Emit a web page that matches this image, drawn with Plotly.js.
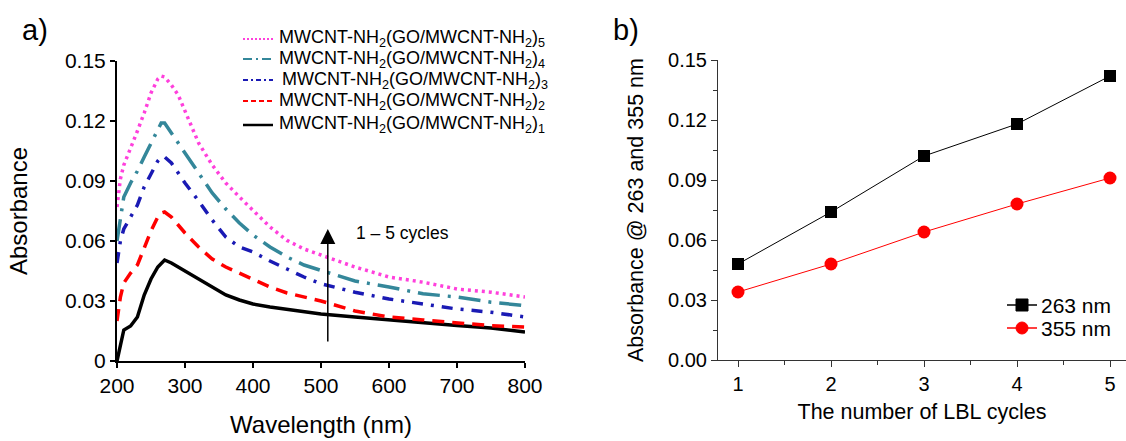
<!DOCTYPE html>
<html>
<head>
<meta charset="utf-8">
<script src="https://cdn.plot.ly/plotly-3.0.1.min.js"></script>
<style>
html,body{margin:0;padding:0;background:#fff;}
#chart{width:1126px;height:441px;}
</style>
</head>
<body>
<div id="chart"></div>
<script>
// ---------- Panel a) UV-vis spectra ----------
const wavelength = [200,205,210,220,230,240,250,260,265,270,280,290,300,320,340,360,380,400,425,450,475,500,550,600,650,700,750,800];
const absCycle1 = [0.000,0.008,0.0155,0.0175,0.022,0.033,0.041,0.047,0.049,0.0505,0.049,0.047,0.0455,0.041,0.037,0.033,0.0305,0.0285,0.027,0.0258,0.0245,0.0235,0.022,0.0205,0.019,0.0178,0.0165,0.0145];
const absCycle2 = [0.020,0.032,0.039,0.044,0.048,0.057,0.065,0.072,0.074,0.0745,0.072,0.068,0.064,0.057,0.051,0.047,0.044,0.041,0.037,0.034,0.032,0.030,0.025,0.022,0.0205,0.019,0.0177,0.017];
const absCycle3 = [0.049,0.060,0.066,0.072,0.078,0.087,0.094,0.100,0.102,0.102,0.099,0.094,0.089,0.080,0.0705,0.062,0.057,0.0545,0.050,0.046,0.042,0.0386,0.0344,0.031,0.0286,0.026,0.0244,0.022];
const absCycle4 = [0.060,0.070,0.082,0.089,0.095,0.102,0.109,0.116,0.119,0.119,0.114,0.109,0.1045,0.094,0.084,0.076,0.069,0.063,0.057,0.052,0.048,0.0453,0.040,0.037,0.0336,0.032,0.0294,0.0277];
const absCycle5 = [0.077,0.091,0.098,0.106,0.115,0.124,0.134,0.141,0.1425,0.142,0.138,0.133,0.125,0.109,0.098,0.089,0.082,0.0754,0.067,0.0603,0.056,0.053,0.047,0.042,0.0394,0.036,0.0344,0.032];
const spectraNames = [
  'MWCNT-NH<sub>2</sub>(GO/MWCNT-NH<sub>2</sub>)<sub>1</sub>',
  'MWCNT-NH<sub>2</sub>(GO/MWCNT-NH<sub>2</sub>)<sub>2</sub>',
  'MWCNT-NH<sub>2</sub>(GO/MWCNT-NH<sub>2</sub>)<sub>3</sub>',
  'MWCNT-NH<sub>2</sub>(GO/MWCNT-NH<sub>2</sub>)<sub>4</sub>',
  'MWCNT-NH<sub>2</sub>(GO/MWCNT-NH<sub>2</sub>)<sub>5</sub>'
];
const yTicksA = [0,0.03,0.06,0.09,0.12,0.15];
const yTickTextA = ['0','0.03','0.06','0.09','0.12','0.15'];
const xTicksA = [200,300,400,500,600,700,800];

// ---------- Panel b) absorbance vs LBL cycles ----------
const cycles = [1,2,3,4,5];
const abs263 = [0.048,0.074,0.102,0.118,0.142];
const abs355 = [0.034,0.048,0.064,0.078,0.091];
const seriesNamesB = ['263 nm','355 nm'];
const yTicksB = [0,0.03,0.06,0.09,0.12,0.15];
const yTickTextB = ['0.00','0.03','0.06','0.09','0.12','0.15'];

const FONT = 'Arial, "Liberation Sans", sans-serif';

const styles = [
  {color:'#000000', dash:'solid', legDash:'solid'},
  {color:'#ff0000', dash:'12px,8px', legDash:'5px,3px'},
  {color:'#1a1ab4', dash:'11px,8px,3px,8px', legDash:'5px,3px,2px,3px'},
  {color:'#34879a', dash:'22px,8px,3px,8px', legDash:'9px,4px,2px,4px'},
  {color:'#ff40dc', dash:'3px,4px', legDash:'2px,2px'}
];
const spectra = [absCycle1,absCycle2,absCycle3,absCycle4,absCycle5];

const traces = [];
for (let i = 0; i < 5; i++) {
  traces.push({
    type:'scatter', mode:'lines', x:wavelength, y:spectra[i],
    name:spectraNames[i], xaxis:'x', yaxis:'y', showlegend:false,
    line:{color:styles[i].color, width:3.5, dash:styles[i].dash}
  });
}
traces.push({
  type:'scatter', mode:'lines+markers', x:cycles, y:abs263, name:seriesNamesB[0],
  xaxis:'x2', yaxis:'y2', showlegend:false,
  line:{color:'#000000', width:1}, marker:{symbol:'square', size:12, color:'#000000'}
});
traces.push({
  type:'scatter', mode:'lines+markers', x:cycles, y:abs355, name:seriesNamesB[1],
  xaxis:'x2', yaxis:'y2', showlegend:false,
  line:{color:'#ff0000', width:1}, marker:{symbol:'circle', size:13, color:'#ff0000'}
});

const W = 1126, H = 441;
const px = v => v / W;
const py = v => 1 - v / H;

// manual legend (panel a): rows from top = cycle 5 .. cycle 1
const legRowsA = [125, 101, 80, 59, 39]; // y pixel of rows for cycles 1..5
const shapes = [];
const annotations = [];
for (let i = 0; i < 5; i++) {
  shapes.push({type:'line', xref:'paper', yref:'paper',
    x0:px(243), x1:px(273), y0:py(legRowsA[i]), y1:py(legRowsA[i]),
    line:{color:styles[i].color, width:i===0?2.5:2, dash:styles[i].legDash}});
  annotations.push({xref:'paper', yref:'paper', x:px(i===2?280:277), y:py(legRowsA[i]),
    xanchor:'left', yanchor:'middle', text:spectraNames[i], showarrow:false, font:{size:18}});
}
// manual legend (panel b)
const legRowsB = [305, 328];
const legColB = ['#000000','#ff0000'];
for (let i = 0; i < 2; i++) {
  shapes.push({type:'line', xref:'paper', yref:'paper',
    x0:px(1007), x1:px(1037), y0:py(legRowsB[i]), y1:py(legRowsB[i]),
    line:{color:legColB[i], width:1.5}});
  shapes.push({type:i===0?'rect':'circle', xref:'paper', yref:'paper',
    x0:px(1016), x1:px(1028), y0:py(legRowsB[i]+6), y1:py(legRowsB[i]-6),
    fillcolor:legColB[i], line:{color:legColB[i], width:1}});
  annotations.push({xref:'paper', yref:'paper', x:px(1039), y:py(legRowsB[i]),
    xanchor:'left', yanchor:'middle', text:seriesNamesB[i], showarrow:false, font:{size:21}});
}
annotations.push(
  {xref:'paper', yref:'paper', x:px(20), y:py(30), xanchor:'left', yanchor:'middle',
   text:'a)', showarrow:false, font:{size:29}},
  {xref:'paper', yref:'paper', x:px(611), y:py(30), xanchor:'left', yanchor:'middle',
   text:'b)', showarrow:false, font:{size:29}},
  {xref:'x', yref:'y', x:510, y:0.066, axref:'x', ayref:'y', ax:510, ay:0.009,
   showarrow:true, arrowhead:2, arrowsize:2, arrowwidth:1.5, arrowcolor:'#000', text:''},
  {xref:'x', yref:'y', x:548, y:0.064, xanchor:'left', yanchor:'middle',
   text:'1 – 5 cycles', showarrow:false, font:{size:17.5}}
);

const layout = {
  width:W, height:H,
  margin:{l:0,r:0,t:0,b:0},
  paper_bgcolor:'#ffffff', plot_bgcolor:'rgba(0,0,0,0)',
  font:{family:FONT, color:'#000000', size:18},
  showlegend:false,
  xaxis:{
    domain:[px(117), px(525)], range:[200,800], anchor:'y',
    tickvals:xTicksA, ticks:'outside', ticklen:5, tickwidth:2, tickcolor:'#000',
    showline:true, linewidth:2, linecolor:'#000', showgrid:false, zeroline:false,
    tickfont:{size:21}, automargin:false,
    title:{text:'Wavelength (nm)', font:{size:24}, standoff:20}
  },
  yaxis:{
    domain:[py(361), py(61)], range:[0,0.15], anchor:'x',
    tickvals:yTicksA, ticktext:yTickTextA, ticks:'outside', ticklen:5, tickwidth:2, tickcolor:'#000',
    showline:true, linewidth:2, linecolor:'#000', showgrid:false, zeroline:false,
    tickfont:{size:21}, automargin:false,
    title:{text:'Absorbance', font:{size:24}, standoff:31}
  },
  xaxis2:{
    domain:[px(718), 1], range:[0.785,5.172], anchor:'y2',
    tickvals:cycles, ticks:'outside', ticklen:6, tickwidth:1, tickcolor:'#333',
    minor:{dtick:0.5, tick0:0.5, ticks:'outside', ticklen:4, tickcolor:'#333', showgrid:false},
    showline:true, linewidth:1, linecolor:'#333', showgrid:false, zeroline:false,
    tickfont:{size:20}, automargin:false,
    title:{text:'The number of LBL cycles', font:{size:21.5}, standoff:9}
  },
  yaxis2:{
    domain:[py(360), py(60)], range:[0,0.15], anchor:'x2',
    tickvals:yTicksB, ticktext:yTickTextB, ticks:'outside', ticklen:6, tickwidth:1, tickcolor:'#333',
    minor:{dtick:0.015, tick0:0.015, ticks:'outside', ticklen:4, tickcolor:'#333', showgrid:false},
    showline:true, linewidth:1, linecolor:'#333', showgrid:false, zeroline:false,
    tickfont:{size:20}, automargin:false,
    title:{text:'Absorbance @ 263 and 355 nm', font:{size:21.5}, standoff:18}
  },
  shapes:shapes,
  annotations:annotations
};

Plotly.newPlot('chart', traces, layout, {displayModeBar:false, staticPlot:true});
</script>
</body>
</html>
